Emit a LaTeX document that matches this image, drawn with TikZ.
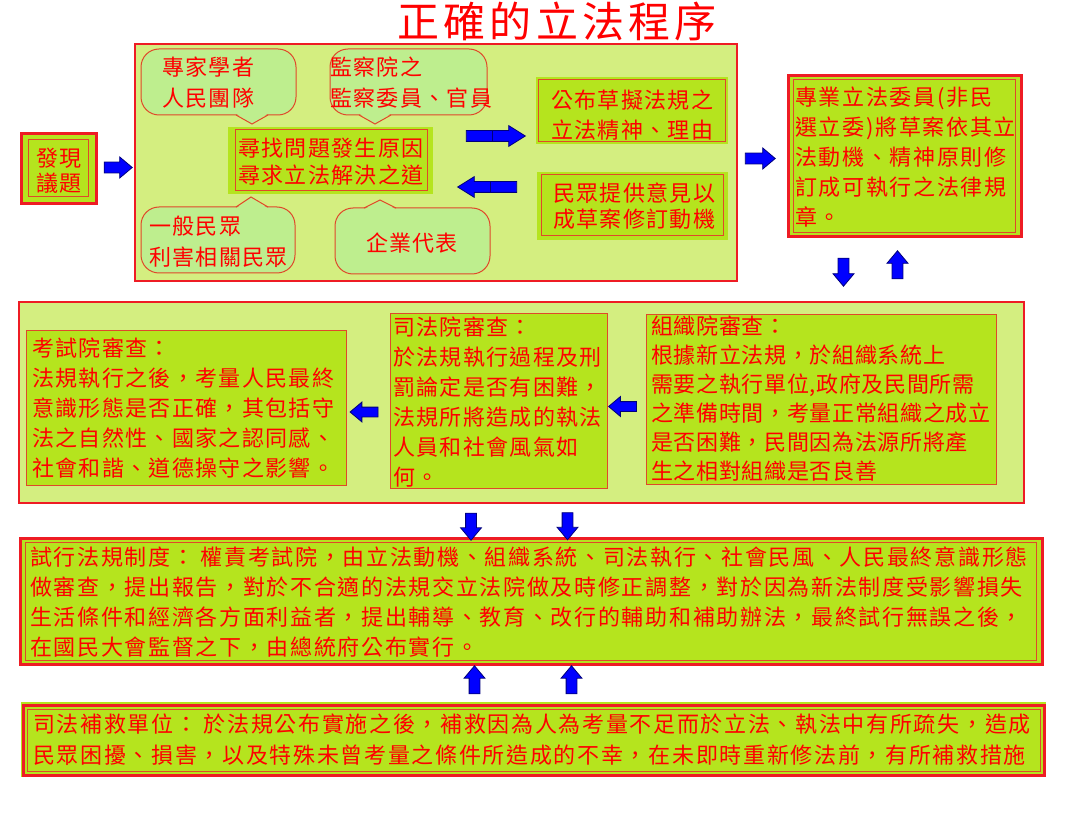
\documentclass[tikz,border=0pt]{standalone}
\usepackage{fontspec}
\usetikzlibrary{shapes.arrows}
\newfontfamily\cjk[LetterSpace=6]{Noto Sans CJK TC}
\newfontfamily\cjkw[LetterSpace=7.6]{Noto Sans CJK TC}
\newfontfamily\cjkn[LetterSpace=3]{Noto Sans CJK TC}
\newfontfamily\cjkt[LetterSpace=10]{Noto Sans CJK TC}
\definecolor{palefill}{HTML}{D4EE80}
\definecolor{limefill}{HTML}{B5E41E}
\definecolor{bubfill}{HTML}{BEEE8E}
\definecolor{bred}{HTML}{EE1C24}
\definecolor{ored}{HTML}{E0482A}
\definecolor{tred}{HTML}{FF0000}
\definecolor{barblue}{HTML}{0000FF}
\definecolor{navyline}{HTML}{00007A}
\tikzset{
  container/.style={fill=palefill, draw=bred, line width=2.5pt},
  limebg/.style={fill=limefill},
  thinframe/.style={draw=ored, line width=1pt},
  redframe/.style={draw=bred, line width=3pt},
  bubble/.style={fill=bubfill, draw=ored, line width=1pt, rounded corners=18pt},
  txt/.style={text=tred, inner sep=0pt, align=left, anchor=west, font=\cjk\fontsize{22}{#1}\selectfont},
  txt/.default=30,
  wide/.style={font=\cjkw\fontsize{22}{#1}\selectfont},
  wide/.default=30,
  narrow/.style={font=\cjkn\fontsize{22}{#1}\selectfont},
  narrow/.default=29,
  blk/.style={single arrow, fill=barblue, draw=navyline, line width=0.8pt, inner sep=5pt,
    single arrow head extend=5pt, minimum width=21pt, minimum height=28pt, single arrow tip angle=80},
}
\begin{document}
\begin{tikzpicture}[x=1pt,y=-1pt]
\useasboundingbox (0,0) rectangle (1090,818);
\fill[white] (0,0) rectangle (1090,818);
% title
\node[text=tred, font=\cjkt\fontsize{42}{42}\selectfont, inner sep=0pt] (title) at (557,21) {正確的立法程序};
% discover
\draw[redframe, fill=limefill] (21,134) rectangle (96,204);
\draw[thinframe] (28,140) rectangle (88,197);
\node[txt=25, anchor=center, align=center] (disc) at (59,170.5) {發現\\議題};
% top container
\draw[container] (135,44) rectangle (737,281);
% bubbles
\draw[bubble] (141,49) rectangle (296,115);
\fill[bubfill] (236,113.5) -- (252,124) -- (268,113.5) -- cycle;
\draw[ored, line width=1pt] (236,115) -- (252,124) -- (268,115);
\draw[bubble] (330,49) rectangle (487,115);
\fill[bubfill] (359,113.5) -- (375,124) -- (391,113.5) -- cycle;
\draw[ored, line width=1pt] (359,115) -- (375,124) -- (391,115);
\draw[bubble] (141,207) rectangle (295,273);
\fill[bubfill] (236,208.5) -- (251,197) -- (268,208.5) -- cycle;
\draw[ored, line width=1pt] (236,207) -- (251,197) -- (268,207);
\draw[bubble] (335,208) rectangle (490,274);
\fill[bubfill] (364,209.5) -- (380,200) -- (396,209.5) -- cycle;
\draw[ored, line width=1pt] (364,208) -- (380,200) -- (396,208);
\node[txt=31] (b1) at (162,82.5) {專家學者\\人民團隊};
\node[txt=31] (b2) at (330,82.5) {監察院之\\監察委員、官員};
\node[txt=31] (b3) at (149,241.5) {一般民眾\\利害相關民眾};
\node[txt, anchor=center] (b4) at (412,243) {企業代表};
% center box
\fill[limebg] (228,127) rectangle (433,194);
\draw[thinframe] (235,130) rectangle (427,191);
\node[txt=27] (ctr) at (238,161.5) {尋找問題發生原因\\尋求立法解決之道};
% right-side boxes in top container
\fill[limebg] (536,77) rectangle (728,144);
\draw[thinframe] (538,80) rectangle (725,142);
\node[txt] (pub) at (551,115) {公布草擬法規之\\立法精神、理由};
\fill[limebg] (537,172) rectangle (728,240);
\draw[thinframe] (541,175) rectangle (723,236);
\node[txt=26] (opin) at (553,206) {民眾提供意見以\\成草案修訂動機};
% right box
\draw[redframe, fill=limefill] (788,76) rectangle (1021,237);
\draw[thinframe] (793,80) rectangle (1015,233);
\node[txt, wide] (pro) at (795,157) {專業立法委員(非民\\選立委)將草案依其立\\法動機、精神原則修\\訂成可執行之法律規\\章。};
% middle container
\draw[container] (19,302) rectangle (1024,503);
\draw[thinframe, fill=limefill] (26,331) rectangle (346,485);
\node[txt] (exam) at (32,408) {考試院審查：\\法規執行之後，考量人民最終\\意識形態是否正確，其包括守\\法之自然性、國家之認同感、\\社會和諧、道德操守之影響。};
\draw[thinframe, fill=limefill] (390,314) rectangle (607,488);
\node[txt] (jud) at (393,402) {司法院審查：\\於法規執行過程及刑\\罰論定是否有困難，\\法規所將造成的執法\\人員和社會風氣如\\何。};
\draw[thinframe, fill=limefill] (646,315) rectangle (996,484);
\node[txt, narrow] (org) at (651,398.5) {組織院審查：\\根據新立法規，於組織系統上\\需要之執行單位,政府及民間所需\\之準備時間，考量正常組織之成立\\是否困難，民間因為法源所將產\\生之相對組織是否良善};
% trial box
\draw[redframe, fill=limefill] (20,538) rectangle (1042,664);
\draw[thinframe] (25,542) rectangle (1036,660);
\node[txt, wide] (trial) at (30,602) {試行法規制度： 權責考試院，由立法動機、組織系統、司法執行、社會民風、人民最終意識形態\\做審查，提出報告，對於不合適的法規交立法院做及時修正調整，對於因為新法制度受影響損失\\生活條件和經濟各方面利益者，提出輔導、教育、改行的輔助和補助辦法，最終試行無誤之後，\\在國民大會監督之下，由總統府公布實行。};
% remedy box
\fill[limebg] (21,702) rectangle (1046,777);
\draw[redframe] (23,705) rectangle (1044,775);
\draw[thinframe] (27,709) rectangle (1040,771);
\node[txt, wide=31] (rem) at (33,739.5) {司法補救單位： 於法規公布實施之後，補救因為人為考量不足而於立法、執法中有所疏失，造成\\民眾困擾、損害，以及特殊未曾考量之條件所造成的不幸，在未即時重新修法前，有所補救措施};
% block arrows
\node[blk] (a1) at (115,167.5) {};
\node[blk, minimum height=59pt, minimum width=20pt, single arrow tip angle=64] (a2) at (491.5,136) {};
\draw[navyline, line width=0.8pt] (a2.center) ++(0.5,-5) -- ++(0,10);
\node[blk, minimum height=59pt, minimum width=20pt, single arrow tip angle=64, rotate=180] (a3) at (491.5,187) {};
\draw[navyline, line width=0.8pt] (a3.center) ++(-1.5,-5) -- ++(0,10);
\node[blk, minimum height=30pt] (a4) at (757,158.5) {};
\node[blk, rotate=270] (a5) at (843.5,269) {};
\node[blk, rotate=90] (a6) at (897.5,268) {};
\node[blk, rotate=180, minimum width=19pt, inner sep=4.5pt] (a7) at (367,412) {};
\node[blk, rotate=180, minimum width=19pt, inner sep=4.5pt] (a8) at (625.5,406.5) {};
\node[blk, rotate=270, minimum height=27pt, minimum width=20pt] (a9) at (471,523.5) {};
\node[blk, rotate=270, minimum height=27pt, minimum width=20pt] (a10) at (567.5,523) {};
\node[blk, rotate=90, minimum width=20pt] (a11) at (474.5,683) {};
\node[blk, rotate=90, minimum width=20pt] (a12) at (571.5,683) {};
\end{tikzpicture}
\end{document}
